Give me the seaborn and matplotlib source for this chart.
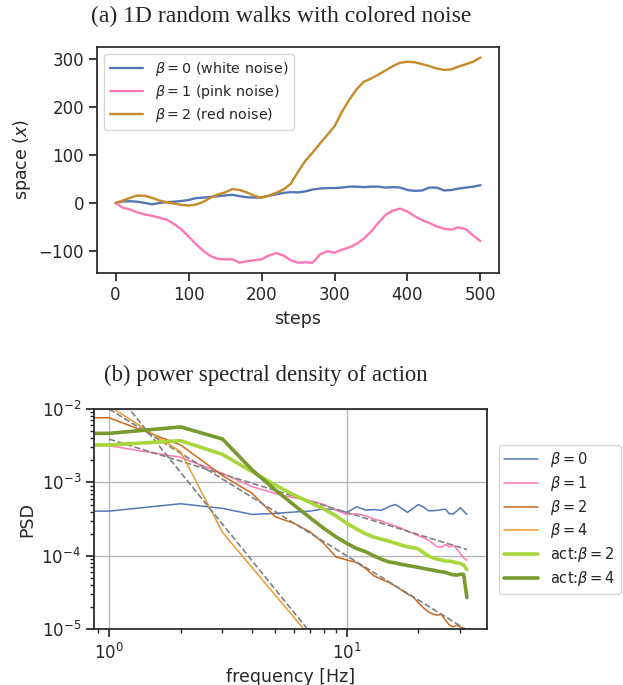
import numpy as np
import pandas as pd
import matplotlib
matplotlib.use("Agg")
import matplotlib.pyplot as plt
import seaborn as sns

steps = list(range(0, 501, 10))
walk_white = [0, 3, 3.5, 2.5, 0, -3, 0, 1.5, 2.5, 4, 6, 10, 11, 12.5, 14, 15.5, 17, 14, 12, 11,
              11.5, 15, 18, 21, 22.5, 22, 24, 28, 30, 31, 31, 32, 34, 34, 33, 34, 34, 32, 33, 32,
              27, 25, 26, 32, 32, 26, 27, 30, 32, 34, 37]
walk_pink = [0, -10, -14, -20, -24, -27, -31, -35, -44, -55, -70, -86, -100, -111, -117, -118, -118,
             -125, -122, -120, -118, -110, -105, -110, -120, -125, -124, -125, -108, -101, -104, -98,
             -93, -86, -75, -60, -42, -25, -16, -12, -18, -28, -36, -42, -49, -54, -56, -51, -55, -68, -80]
walk_red = [0, 5, 10.6, 15.5, 14.8, 10.6, 5, 1.4, -1.4, -4.2, -5.6, -3.5, 2.1, 10.6, 17.6, 21.8, 28.9,
            27, 22, 15, 11, 15, 21, 28, 40, 65, 88, 105, 124, 142, 160, 190, 215, 237, 253, 260, 268,
            277, 286, 293, 295, 294, 290, 286, 281, 278, 279, 285, 290, 295, 304]

# ---- (b) PSD, frequencies 0..32 Hz (0 = DC bin) ----
freq = list(range(0, 33))
psd_b0 = [4.07e-4, 4.07e-4, 5.13e-4, 4.43e-4, 3.67e-4, 3.79e-4, 3.95e-4, 4.07e-4, 4.37e-4, 4.27e-4,
          3.91e-4, 4.67e-4, 4.21e-4, 4.27e-4, 4.17e-4, 4.68e-4, 5.01e-4, 4.44e-4, 3.91e-4, 4.44e-4,
          5.01e-4, 4.62e-4, 4.12e-4, 4.12e-4, 4.17e-4, 4.27e-4, 4.32e-4, 3.75e-4, 3.72e-4, 4.07e-4,
          4.53e-4, 4.07e-4, 3.67e-4]
psd_b1 = [3.16e-3, 3.16e-3, 2.2e-3, 1.33e-3, 8.75e-4, 7.1e-4, 6.19e-4, 5.64e-4, 5.02e-4, 4.21e-4,
          3.67e-4, 3.75e-4, 3.52e-4, 3.17e-4, 2.98e-4, 2.74e-4, 2.55e-4, 2.37e-4, 2.18e-4, 2.02e-4,
          1.88e-4, 1.77e-4, 1.64e-4, 1.48e-4, 1.33e-4, 1.32e-4, 1.43e-4, 1.32e-4, 1.40e-4, 1.24e-4,
          1.08e-4, 9.4e-5, 8.7e-5]
psd_b2 = [7.6e-3, 7.6e-3, 3.24e-3, 1.24e-3, 7.1e-4, 3.41e-4, 2.77e-4, 2.13e-4, 1.48e-4, 9.7e-5,
          8.8e-5, 8.1e-5, 6.75e-5, 5.36e-5, 4.79e-5, 4.36e-5, 3.88e-5, 3.42e-5, 3.02e-5, 2.77e-5,
          2.30e-5, 1.96e-5, 1.73e-5, 1.61e-5, 1.56e-5, 1.59e-5, 1.33e-5, 1.14e-5, 1.08e-5, 1.14e-5,
          1.08e-5, 1.01e-5, 9.3e-6]
freq_b4 = list(range(0, 9))
psd_b4 = [1.1e-2, 1.1e-2, 2.62e-3, 2.09e-4, 6.9e-5, 2.92e-5, 1.45e-5, 8.0e-6, 4.8e-6]
psd_act2 = [3.24e-3, 3.24e-3, 3.7e-3, 2.41e-3, 1.4e-3, 9.2e-4, 6.73e-4, 5.35e-4, 4.35e-4, 3.52e-4,
            2.77e-4, 2.32e-4, 2.0e-4, 1.8e-4, 1.69e-4, 1.59e-4, 1.49e-4, 1.40e-4, 1.33e-4, 1.29e-4,
            1.24e-4, 1.11e-4, 1.0e-4, 9.4e-5, 9.0e-5, 8.8e-5, 8.5e-5, 8.5e-5, 8.3e-5, 8.05e-5,
            7.9e-5, 7.5e-5, 6.5e-5]
psd_act4 = [4.66e-3, 4.66e-3, 5.7e-3, 3.9e-3, 1.48e-3, 7.9e-4, 4.92e-4, 3.31e-4, 2.37e-4, 1.82e-4,
            1.48e-4, 1.26e-4, 1.14e-4, 1.0e-4, 9.0e-5, 8.3e-5, 8.0e-5, 7.66e-5, 7.41e-5, 7.18e-5,
            6.97e-5, 6.75e-5, 6.55e-5, 6.41e-5, 6.21e-5, 6.08e-5, 5.96e-5, 5.71e-5, 5.53e-5, 5.47e-5,
            5.6e-5, 5.6e-5, 2.7e-5]

# power-law guide lines, end points
fit_f = [1, 32]
fit_slope1 = [3.89e-3, 1.22e-4]
fit_slope2 = [1.0e-2, 9.8e-6]
fit_slope4 = [2.19e-2, 2.09e-8]

sns.set_theme(style="ticks")
plt.rcParams["font.family"] = ["DejaVu Sans"]
plt.rcParams["mathtext.fontset"] = "dejavusans"

fig = plt.figure(figsize=(6.23, 6.85), dpi=100)

# ---------- top panel ----------
ax1 = fig.add_axes([0.1562, 0.6015, 0.6443, 0.3296])
sns.lineplot(x=steps, y=walk_white, ax=ax1, color="#5577b8", lw=1.7, label=r"$\beta = 0$ (white noise)")
sns.lineplot(x=steps, y=walk_pink, ax=ax1, color="#ff77b6", lw=1.7, label=r"$\beta = 1$ (pink noise)")
sns.lineplot(x=steps, y=walk_red, ax=ax1, color="#c68a27", lw=1.7, label=r"$\beta = 2$ (red noise)")
ax1.set_xlabel("steps", fontsize=12.5)
ax1.set_ylabel(r"space ($x$)", fontsize=12.5)
ax1.set_xticks([0, 100, 200, 300, 400, 500])
ax1.set_yticks([-100, 0, 100, 200, 300])
ax1.tick_params(labelsize=12)
ax1.legend(loc="upper left", fontsize=10.3, handlelength=2.3, labelspacing=0.35, frameon=True)

# ---------- bottom panel ----------
ax2 = fig.add_axes([0.1514, 0.0813, 0.6308, 0.3216])
ax2.set_xscale("log")
ax2.set_yscale("log")
thin = 1.1
sns.lineplot(x=freq, y=psd_b0, ax=ax2, color="#5577b8", lw=thin, label=r"$\beta = 0$", estimator=None)
sns.lineplot(x=freq, y=psd_b1, ax=ax2, color="#ff77b6", lw=thin, label=r"$\beta = 1$", estimator=None)
sns.lineplot(x=fit_f, y=fit_slope1, ax=ax2, color="#808080", lw=1.2, linestyle="--", estimator=None)
sns.lineplot(x=freq, y=psd_b2, ax=ax2, color="#cc6a1f", lw=thin, label=r"$\beta = 2$", estimator=None)
sns.lineplot(x=fit_f, y=fit_slope2, ax=ax2, color="#808080", lw=1.2, linestyle="--", estimator=None)
sns.lineplot(x=freq_b4, y=psd_b4, ax=ax2, color="#e99b2d", lw=thin, label=r"$\beta = 4$", estimator=None)
sns.lineplot(x=fit_f, y=fit_slope4, ax=ax2, color="#808080", lw=1.2, linestyle="--", estimator=None)
sns.lineplot(x=freq, y=psd_act2, ax=ax2, color="#a8d63b", lw=2.6, label=r"act:$\beta = 2$", estimator=None)
sns.lineplot(x=freq, y=psd_act4, ax=ax2, color="#789a2e", lw=2.6, label=r"act:$\beta = 4$", estimator=None)
ax2.set_xlim(0.867, 39.0)
ax2.set_ylim(1e-5, 1e-2)
ax2.grid(True, which="major", color="#b8b8b8", lw=1.0)
ax2.set_xlabel("frequency [Hz]", fontsize=12.5)
ax2.set_ylabel("PSD", fontsize=12.5)
ax2.tick_params(labelsize=12)
ax2.tick_params(which="minor", length=3)
ax2.legend(loc="center left", bbox_to_anchor=(1.01, 0.5), fontsize=10.5, handlelength=2.3,
           labelspacing=0.32)

fig.text(0.452, 0.968, "(a) 1D random walks with colored noise", family="Liberation Serif",
         fontsize=17, ha="center", va="baseline")
fig.text(0.427, 0.4438, "(b) power spectral density of action", family="Liberation Serif",
         fontsize=16.4, ha="center", va="baseline")

fig.savefig("out.png", dpi=100)
